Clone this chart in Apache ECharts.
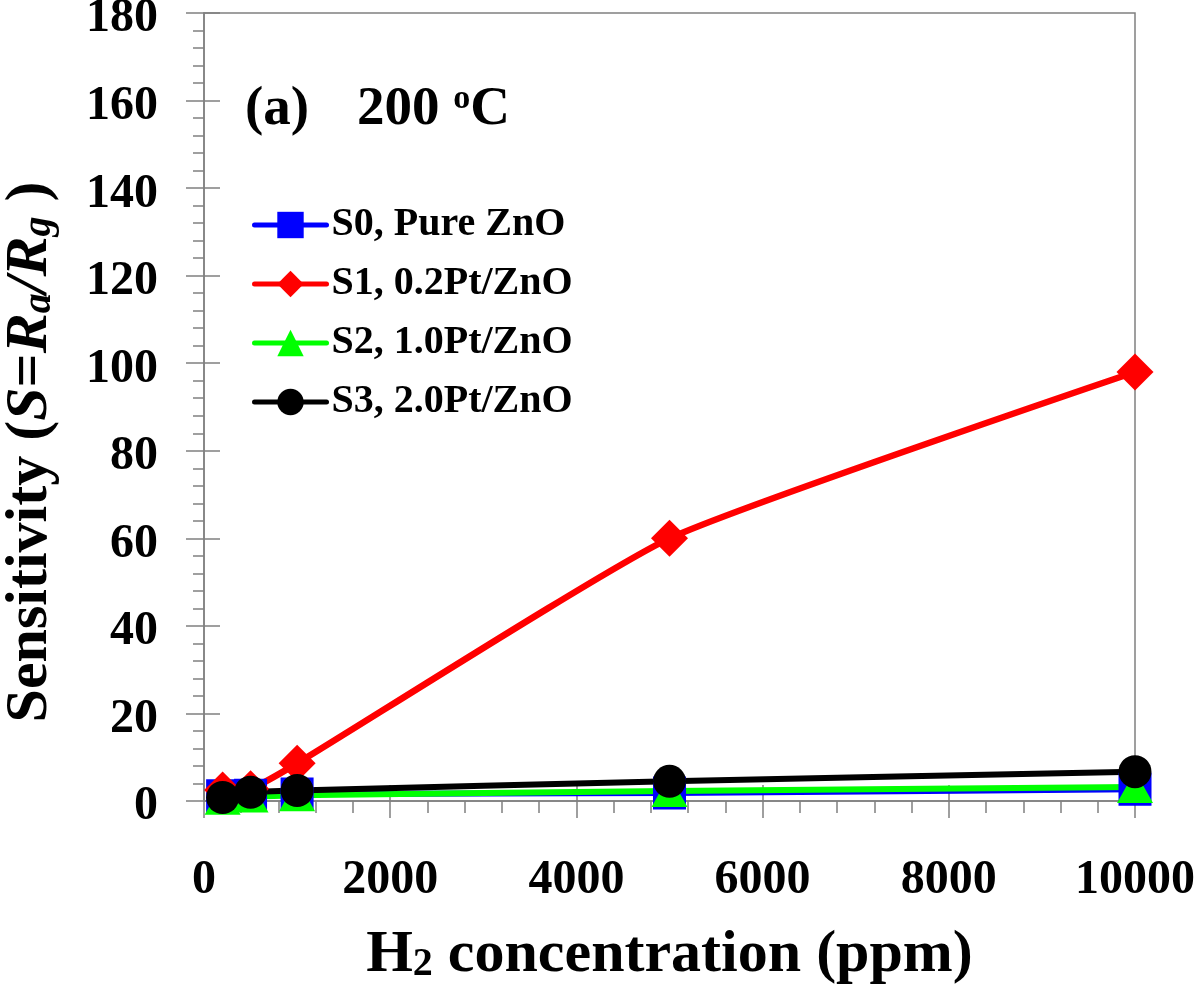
<!DOCTYPE html>
<html><head><meta charset="utf-8">
<script src="https://cdn.jsdelivr.net/npm/echarts@6/dist/echarts.min.js"></script>
<style>html,body{margin:0;padding:0;background:#fff}#c{width:1197px;height:1000px}</style>
</head><body><div id="c"></div>
<script>
// ---- data ----
const concentration = [200, 500, 1000, 5000, 10000];
const s0Values = [1.2, 1.3, 1.6, 1.8, 2.7];
const s1Values = [2.5, 2.8, 8.6, 60, 98];
const s2Values = [0.5, 1.0, 1.3, 2.3, 3.2];
const s3Values = [0.8, 2.0, 2.4, 4.5, 6.7];
const seriesNames = ['S0, Pure ZnO', 'S1, 0.2Pt/ZnO', 'S2, 1.0Pt/ZnO', 'S3, 2.0Pt/ZnO'];
const xRange = [0, 10000, 2000];
const yRange = [0, 180, 20];

const FONT = "'Liberation Serif','Times New Roman',serif";
const AX = '#808080';
const pairs = v => concentration.map((x, i) => [x, v[i]]);

const chart = echarts.init(document.getElementById('c'), null, {renderer: 'canvas'});

function mkSeries(name, vals, color, symbol, size, lw) {
  return {
    name, type: 'line', data: pairs(vals), xAxisIndex: 0, yAxisIndex: 0,
    smooth: 0.15, symbol, symbolSize: size, showSymbol: true,
    lineStyle: {color, width: lw, cap: 'round', join: 'round'},
    itemStyle: {color},
    emphasis: {disabled: true}, animation: false
  };
}

const option = {
  animation: false,
  backgroundColor: '#fff',
  grid: {left: 204, top: 13, width: 931, height: 788, show: true, borderColor: AX, borderWidth: 1.5,
    backgroundColor: 'transparent', containLabel: false, outerBoundsMode: 'none'},
  legend: {
    left: 247, top: 200, orient: 'vertical',
    itemWidth: 72, itemHeight: 33, itemGap: 19,
    lineStyle: {width: 5, cap: 'round'},
    textStyle: {fontFamily: FONT, fontWeight: 'bold', fontSize: 40, color: '#000', lineHeight: 40},
    data: seriesNames
  },
  xAxis: [{
    type: 'value', min: xRange[0], max: xRange[1], interval: xRange[2],
    axisLine: {show: true, onZero: false, lineStyle: {color: AX, width: 1.5}},
    axisTick: {show: true, inside: false, length: 17, lineStyle: {color: AX, width: 1.5}},
    minorTick: {show: true, splitNumber: 5, length: 12, lineStyle: {color: AX, width: 1.5}},
    splitLine: {show: false},
    axisLabel: {fontFamily: FONT, fontWeight: 'bold', fontSize: 48, color: '#000', margin: 56,
      formatter: v => String(v)},
    name: '{m|H}{sub|2}{m| concentration (ppm)}', nameLocation: 'middle', nameGap: 124,
    nameTextStyle: {fontFamily: FONT, fontWeight: 'bold', fontSize: 60, color: '#000',
      rich: {
        m: {fontFamily: FONT, fontWeight: 'bold', fontSize: 60, lineHeight: 60, color: '#000'},
        sub: {fontFamily: FONT, fontWeight: 'bold', fontSize: 40, lineHeight: 12, verticalAlign: 'bottom', color: '#000'}
      }}
  }, {
    type: 'value', min: xRange[0], max: xRange[1], interval: xRange[2], position: 'bottom',
    axisLine: {show: false, onZero: false},
    axisTick: {show: true, inside: true, length: 16, lineStyle: {color: AX, width: 1.5}},
    axisLabel: {show: false}, splitLine: {show: false}
  }],
  yAxis: [{
    type: 'value', min: yRange[0], max: yRange[1], interval: yRange[2],
    axisLine: {show: true, onZero: false, lineStyle: {color: AX, width: 1.5}},
    axisTick: {show: true, inside: false, length: 18, lineStyle: {color: AX, width: 1.5}},
    minorTick: {show: true, splitNumber: 5, length: 11, lineStyle: {color: AX, width: 1.5}},
    splitLine: {show: false},
    axisLabel: {fontFamily: FONT, fontWeight: 'bold', fontSize: 48, color: '#000', margin: 46,
      verticalAlign: 'top', lineHeight: 12}
  }, {
    type: 'value', min: yRange[0], max: yRange[1], interval: yRange[2], position: 'left',
    axisLine: {show: false, onZero: false},
    axisTick: {show: true, inside: true, length: 16, lineStyle: {color: AX, width: 1.5}},
    axisLabel: {show: false}, splitLine: {show: false}
  }],
  series: [
    mkSeries(seriesNames[0], s0Values, '#0000ff', 'rect', 33, 6),
    mkSeries(seriesNames[1], s1Values, '#ff0000', 'diamond', 37, 6.5),
    mkSeries(seriesNames[2], s2Values, '#00ff00', 'triangle', [36, 32], 6),
    mkSeries(seriesNames[3], s3Values, '#000000', 'circle', 33, 6)
  ],
  graphic: [
    {
      type: 'text', x: 30, y: 452, rotation: Math.PI / 2, silent: true,
      style: {
        text: '{n|Sensitivity (}{i|S}{n|=}{i|R}{sub|a}{i|/R}{sub|g}{n| )}',
        align: 'center', verticalAlign: 'middle', fill: '#000',
        fontFamily: FONT, fontWeight: 'bold', fontSize: 60,
        rich: {
          n: {fontFamily: FONT, fontWeight: 'bold', fontSize: 60, lineHeight: 60, fill: '#000'},
          i: {fontFamily: FONT, fontWeight: 'bold', fontStyle: 'italic', fontSize: 60, lineHeight: 60, fill: '#000'},
          sub: {fontFamily: FONT, fontWeight: 'bold', fontStyle: 'italic', fontSize: 40, lineHeight: 28, verticalAlign: 'bottom', fill: '#000'}
        }
      }
    },
    {
      type: 'text', x: 245, y: 110, silent: true,
      style: {text: '(a)', align: 'left', verticalAlign: 'middle', fill: '#000', fontFamily: FONT, fontWeight: 'bold', fontSize: 55}
    },
    {
      type: 'text', x: 357, y: 110, silent: true,
      style: {
        text: '{m|200 }{sup|o}{m|C}', align: 'left', verticalAlign: 'middle', fill: '#000',
        fontFamily: FONT, fontWeight: 'bold', fontSize: 55,
        rich: {
          m: {fontFamily: FONT, fontWeight: 'bold', fontSize: 55, lineHeight: 55, fill: '#000'},
          sup: {fontFamily: FONT, fontWeight: 'bold', fontSize: 34, lineHeight: 28, verticalAlign: 'top', fill: '#000'}
        }
      }
    }
  ]
};
chart.setOption(option);
</script>
</body></html>
